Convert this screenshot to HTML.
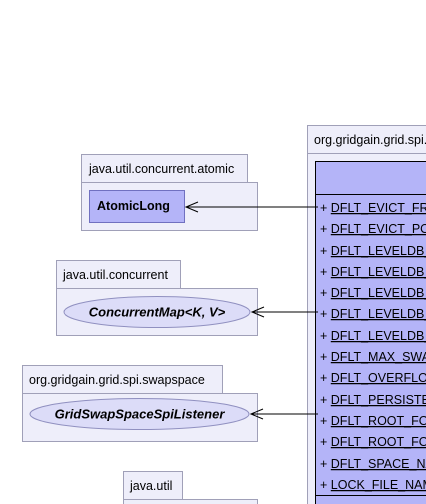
<!DOCTYPE html>
<html><head><meta charset="utf-8"><style>
html,body{margin:0;padding:0;background:#fff;}
svg{display:block;}
text{font-family:"Liberation Sans",sans-serif;}
</style></head><body>
<svg width="426" height="504" viewBox="0 0 426 504" xmlns="http://www.w3.org/2000/svg">
<g stroke="#a0a0b8" stroke-width="1" fill="#eeeefa">
<rect x="81.5" y="154.5" width="166" height="28"/>
<rect x="81.5" y="182.5" width="176" height="48"/>
<rect x="56.5" y="260.5" width="124" height="28"/>
<rect x="56.5" y="288.5" width="201" height="47"/>
<rect x="22.5" y="365.5" width="200" height="28"/>
<rect x="22.5" y="393.5" width="235" height="48"/>
<rect x="123.5" y="471.5" width="59" height="28"/>
<rect x="123.5" y="499.5" width="134" height="20"/>
<rect x="307.5" y="125.5" width="130" height="28"/>
<rect x="307.5" y="153.5" width="130" height="360"/>
</g>
<g font-size="12.5" fill="#000">
<text x="89" y="173">java.util.concurrent.atomic</text>
<text x="63" y="279">java.util.concurrent</text>
<text x="29" y="384">org.gridgain.grid.spi.swapspace</text>
<text x="130" y="490">java.util</text>
<text x="314" y="144">org.gridgain.grid.spi.swapspace</text>
</g>
<rect x="89.5" y="190.5" width="95" height="32" fill="#b4b4f8" stroke="#7070c0"/>
<text x="97" y="210" font-size="12.5" font-weight="bold">AtomicLong</text>
<ellipse cx="157" cy="312" rx="93" ry="15.5" fill="#dcdcf8" stroke="#9090c0"/>
<text x="157" y="316.5" font-size="13" font-weight="bold" font-style="italic" text-anchor="middle">ConcurrentMap&lt;K, V&gt;</text>
<ellipse cx="139.5" cy="414" rx="109.5" ry="15.5" fill="#dcdcf8" stroke="#9090c0"/>
<text x="139.5" y="418.5" font-size="13" font-weight="bold" font-style="italic" text-anchor="middle">GridSwapSpaceSpiListener</text>
<rect x="315.5" y="161.5" width="130" height="360" fill="#b4b4f8" stroke="#000"/>
<line x1="315" y1="194.5" x2="426" y2="194.5" stroke="#000"/>
<line x1="315" y1="495.5" x2="426" y2="495.5" stroke="#000"/>
<g font-size="12.5" fill="#000">
<text x="320" y="212">+ <tspan text-decoration="underline">DFLT_EVICT_FREQ</tspan></text>
<text x="320" y="233">+ <tspan text-decoration="underline">DFLT_EVICT_POLICY</tspan></text>
<text x="320" y="255">+ <tspan text-decoration="underline">DFLT_LEVELDB_BLOCK</tspan></text>
<text x="320" y="276">+ <tspan text-decoration="underline">DFLT_LEVELDB_CACHE</tspan></text>
<text x="320" y="297">+ <tspan text-decoration="underline">DFLT_LEVELDB_FILE</tspan></text>
<text x="320" y="318">+ <tspan text-decoration="underline">DFLT_LEVELDB_WRITE</tspan></text>
<text x="320" y="340">+ <tspan text-decoration="underline">DFLT_LEVELDB_WAL</tspan></text>
<text x="320" y="361">+ <tspan text-decoration="underline">DFLT_MAX_SWAP_SIZE</tspan></text>
<text x="320" y="382">+ <tspan text-decoration="underline">DFLT_OVERFLOW_SIZE</tspan></text>
<text x="320" y="404">+ <tspan text-decoration="underline">DFLT_PERSISTENT</tspan></text>
<text x="320" y="425">+ <tspan text-decoration="underline">DFLT_ROOT_FOLDER</tspan></text>
<text x="320" y="446">+ <tspan text-decoration="underline">DFLT_ROOT_FOLDER_P</tspan></text>
<text x="320" y="468">+ <tspan text-decoration="underline">DFLT_SPACE_NAME</tspan></text>
<text x="320" y="489">+ <tspan text-decoration="underline">LOCK_FILE_NAME</tspan></text>
</g>
<g stroke="#000" stroke-width="1" fill="none">
<line x1="186" y1="207" x2="318" y2="207"/>
<polyline points="198,202 186,207 198,212"/>
<line x1="252" y1="312" x2="318" y2="312"/>
<polyline points="264,307 252,312 264,317"/>
<line x1="251" y1="414" x2="318" y2="414"/>
<polyline points="263,409 251,414 263,419"/>
</g>
</svg>
</body></html>
